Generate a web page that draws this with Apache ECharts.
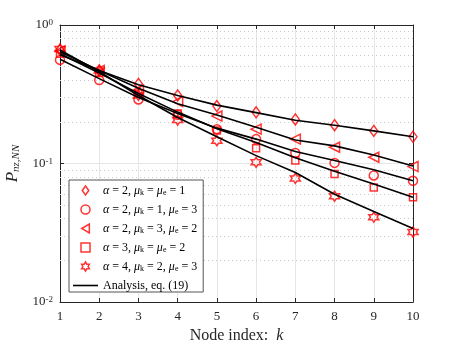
<!DOCTYPE html>
<html>
<head>
<meta charset="utf-8">
<script src="https://cdn.jsdelivr.net/npm/echarts@6/dist/echarts.min.js"></script>
<style>
  html, body { margin: 0; padding: 0; background: #fff; }
  #chart { width: 457px; height: 343px; }
</style>
</head>
<body>
<div id="chart"></div>
<script>
// 节点索引 k
var nodes = [1, 2, 3, 4, 5, 6, 7, 8, 9, 10];

// simulation markers
var simDiamond = [0.66, 0.47, 0.375, 0.31, 0.26, 0.234, 0.208, 0.189, 0.172, 0.156];
var simCircle = [0.56, 0.40, 0.29, 0.225, 0.177, 0.15, 0.119, 0.101, 0.082, 0.075];
var simTriangle = [0.65, 0.47, 0.34, 0.28, 0.22, 0.177, 0.15, 0.131, 0.111, 0.095];
var simSquare = [0.62, 0.45, 0.32, 0.23, 0.173, 0.129, 0.105, 0.084, 0.067, 0.057];
var simStar = [0.67, 0.47, 0.31, 0.206, 0.146, 0.102, 0.078, 0.058, 0.041, 0.032];

// analysis curves, eq. (19)
var anaDiamond = [0.61, 0.47, 0.37, 0.31, 0.264, 0.233, 0.205, 0.189, 0.172, 0.156];
var anaTriangle = [0.64, 0.47, 0.35, 0.27, 0.224, 0.183, 0.148, 0.134, 0.115, 0.096];
var anaCircle = [0.565, 0.41, 0.30, 0.23, 0.18, 0.15, 0.122, 0.105, 0.09, 0.075];
var anaSquare = [0.62, 0.45, 0.32, 0.235, 0.178, 0.142, 0.11, 0.088, 0.071, 0.057];
var anaStar = [0.66, 0.46, 0.31, 0.215, 0.156, 0.114, 0.086, 0.06, 0.045, 0.034];

// y 轴标签 & 次网格
var yTickLabels = { 0.01: "10{sup|-2}", 0.1: "10{sup|-1}", 1: "10{sup|0}" };
var minorGrid = [0.02, 0.03, 0.04, 0.05, 0.06, 0.07, 0.08, 0.09, 0.2, 0.3, 0.4, 0.5, 0.6, 0.7, 0.8, 0.9];

var anaName = "Analysis, eq. (19)";
var legendText = {
  s1: "{g|α} = 2, {g|μ}{s|k} = {g|μ}{s|e} = 1",
  s2: "{g|α} = 2, {g|μ}{s|k} = 1, {g|μ}{s|e} = 3",
  s3: "{g|α} = 2, {g|μ}{s|k} = 3, {g|μ}{s|e} = 2",
  s4: "{g|α} = 3, {g|μ}{s|k} = {g|μ}{s|e} = 2",
  s5: "{g|α} = 4, {g|μ}{s|k} = 2, {g|μ}{s|e} = 3",
};
legendText[anaName] = anaName;

// 图例用的路径图标（保持比例）
var icDiamond = "path://M0,-11 L8,0 L0,11 L-8,0 Z";
var icCircle = "path://M0,-10 A10,10 0 1,1 0,10 A10,10 0 1,1 0,-10 Z";
var icTriLeft = "path://M-9,0 L8,-10 L8,10 Z";
var icSquare = "path://M-8,-8 L8,-8 L8,8 L-8,8 Z";
var icLine = "path://M-12.5,-0.8 L12.5,-0.8 L12.5,0.8 L-12.5,0.8 Z";
var hexagram = "path://M0,-10 L2.887,-5 L8.66,-5 L5.774,0 L8.66,5 L2.887,5 L0,10 L-2.887,5 L-8.66,5 L-5.774,0 L-8.66,-5 L-2.887,-5 Z";

function pairs(arr) {
  return nodes.map(function (k, i) { return [k, arr[i]]; });
}

var serif = "Liberation Serif";
var axisColor = "#262626";
var red = "#ff0000";

function simSeries(name, arr, symbol, size, rotate) {
  return {
    name: name,
    type: "scatter",
    data: pairs(arr),
    symbol: symbol,
    symbolSize: size,
    symbolRotate: rotate || 0,
    itemStyle: { color: "transparent", borderColor: red, borderWidth: 1.5 },
    z: 3,
  };
}

function anaSeries(arr) {
  return {
    name: anaName,
    type: "line",
    data: pairs(arr),
    symbol: "none",
    lineStyle: { color: "#000", width: 1.6 },
    itemStyle: { color: "#000" },
    z: 4,
  };
}

var chart = echarts.init(document.getElementById("chart"));

var series = [
  simSeries("s1", simDiamond, "diamond", [8, 11]),
  simSeries("s2", simCircle, "circle", 9),
  simSeries("s3", simTriangle, "triangle", 10, 90),
  simSeries("s4", simSquare, "rect", 7),
  simSeries("s5", simStar, hexagram, 10),
  anaSeries(anaDiamond),
  anaSeries(anaCircle),
  anaSeries(anaTriangle),
  anaSeries(anaSquare),
  anaSeries(anaStar),
];

// 次网格虚线
series[5].markLine = {
  silent: true,
  symbol: ["none", "none"],
  label: { show: false },
  animation: false,
  lineStyle: { type: [1, 3], color: "#c8c8c8", width: 1 },
  data: minorGrid.map(function (v) { return { yAxis: v }; }),
  z: 1,
};

var markerIcon = { color: "transparent", borderColor: red, borderWidth: 1.5 };

var option = {
  animation: false,
  grid: { left: 60, right: 44, top: 25, bottom: 41, outerBoundsMode: "none" },
  legend: {
    data: [
      { name: "s1", icon: icDiamond, itemStyle: markerIcon },
      { name: "s2", icon: icCircle, itemStyle: markerIcon },
      { name: "s3", icon: icTriLeft, itemStyle: markerIcon },
      { name: "s4", icon: icSquare, itemStyle: markerIcon },
      { name: "s5", icon: hexagram, itemStyle: markerIcon },
      { name: anaName, icon: icLine, itemStyle: { color: "#000", borderWidth: 0 } },
    ],
    orient: "vertical",
    left: 69,
    top: 180,
    padding: [4, 6, 0, 4],
    itemGap: 6,
    itemWidth: 25,
    itemHeight: 9,
    symbolKeepAspect: true,
    symbolRotate: 0,
    borderColor: "#555",
    borderWidth: 1,
    backgroundColor: "#fff",
    textStyle: {
      fontFamily: serif,
      fontSize: 12,
      color: "#000",
      lineHeight: 13,
      rich: {
        g: { fontFamily: serif, fontSize: 12, fontStyle: "italic", color: "#000", lineHeight: 13 },
        s: { fontFamily: serif, fontSize: 8, color: "#000", lineHeight: 7, verticalAlign: "bottom" },
      },
    },
    formatter: function (n) { return legendText[n]; },
  },
  xAxis: [
    {
      type: "value",
      min: 1,
      max: 10,
      interval: 1,
      name: "Node index:  {i|k}",
      nameLocation: "middle",
      nameGap: 23,
      nameTextStyle: {
        fontFamily: serif,
        fontSize: 16,
        color: axisColor,
        rich: { i: { fontFamily: serif, fontSize: 16, fontStyle: "italic", color: axisColor } },
      },
      axisLine: { lineStyle: { color: axisColor } },
      axisTick: { inside: true, length: 4, lineStyle: { color: axisColor } },
      axisLabel: { fontFamily: serif, fontSize: 13, color: axisColor, margin: 8 },
      splitLine: { show: true, lineStyle: { color: "#e6e6e6", width: 1 } },
    },
    {
      type: "value",
      position: "top",
      min: 1,
      max: 10,
      interval: 1,
      axisLine: { show: true, lineStyle: { color: axisColor } },
      axisTick: { inside: true, length: 4, lineStyle: { color: axisColor } },
      axisLabel: { show: false },
      splitLine: { show: false },
    },
  ],
  yAxis: [
    {
      type: "log",
      logBase: 10,
      min: 0.01,
      max: 1,
      name: "{p|P}{s|nz,NN}",
      nameLocation: "middle",
      nameRotate: 90,
      nameGap: 31,
      nameTextStyle: {
        rich: {
          p: { fontFamily: serif, fontSize: 17, fontStyle: "italic", color: axisColor, lineHeight: 18 },
          s: { fontFamily: serif, fontSize: 11, fontStyle: "italic", color: axisColor, lineHeight: 10, verticalAlign: "bottom" },
        },
      },
      axisLine: { show: true, lineStyle: { color: axisColor } },
      axisTick: { inside: true, length: 4, lineStyle: { color: axisColor } },
      axisLabel: {
        fontFamily: serif,
        fontSize: 13,
        color: axisColor,
        margin: 7,
        formatter: function (v) {
          var key = Math.round(v * 100) / 100;
          return yTickLabels[key] || "";
        },
        rich: { sup: { fontFamily: serif, fontSize: 9, color: axisColor, verticalAlign: "top", lineHeight: 10 } },
      },
      splitLine: { show: true, lineStyle: { color: "#e6e6e6", width: 1 } },
    },
    {
      type: "log",
      logBase: 10,
      min: 0.01,
      max: 1,
      position: "right",
      axisLine: { show: true, lineStyle: { color: axisColor } },
      axisTick: { inside: true, length: 4, lineStyle: { color: axisColor } },
      axisLabel: { show: false },
      splitLine: { show: false },
    },
  ],
  series: series,
};

chart.setOption(option);

window.addEventListener("resize", function () {
  chart.resize();
});
</script>
</body>
</html>
